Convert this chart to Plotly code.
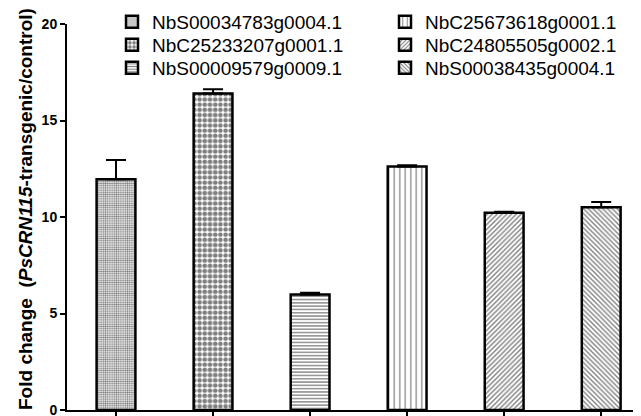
import plotly.graph_objects as go

genes = ["NbS00034783g0004.1", "NbC25233207g0001.1", "NbS00009579g0009.1",
         "NbC25673618g0001.1", "NbC24805505g0002.1", "NbS00038435g0004.1"]
fold_change = [11.95, 16.4, 5.98, 12.62, 10.22, 10.5]
err_upper = [1.0, 0.22, 0.1, 0.06, 0.05, 0.28]
y_ticks = [0, 5, 10, 15, 20]

shapes = [".", ".", "-", "|", "/", "\\"]
sizes = [2.2, 5.2, 3.3, 5.5, 3.4, 3.4]
solids = [0.5, 0.6, 0.4, 0.22, 0.4, 0.4]

# page is offset by the default 8px body margin; compensate in margins
OFF = 8
PL, PT, PB = 67, 24, 410          # plot area in page pixels
W, H = 641, 416

legend_ids = ["legend", "legend2", "legend3", "legend4", "legend5", "legend6"]
leg_text_x = [152, 152, 152, 425, 425, 425]   # where legend text starts (page px)
leg_y_page = [22, 45, 68, 22, 45, 68]         # row centre (page px)

fig = go.Figure()
for i, g in enumerate(genes):
    fig.add_trace(go.Bar(
        x=[g], y=[fold_change[i]], name=g, width=0.40,
        marker=dict(color="white",
                    line=dict(color="black", width=2.5),
                    pattern=dict(shape=shapes[i], size=sizes[i], solidity=solids[i],
                                 fgcolor="black", bgcolor="white", fillmode="overlay")),
        error_y=dict(type="data", symmetric=False, array=[err_upper[i]], arrayminus=[0],
                     color="black", thickness=2, width=10),
        legend=legend_ids[i],
    ))

legends = {}
for i, lid in enumerate(legend_ids):
    legends[lid] = dict(
        xref="container", yref="container",
        x=(leg_text_x[i] - 40 - OFF) / W, y=1 - (leg_y_page[i] - OFF) / H,
        xanchor="left", yanchor="middle",
        font=dict(size=19), bgcolor="rgba(0,0,0,0)")

fig.update_layout(
    width=W, height=H,
    margin=dict(l=PL - OFF, r=OFF, t=PT - OFF, b=H - PB + OFF, autoexpand=False),
    paper_bgcolor="white", plot_bgcolor="white",
    barmode="overlay",
    font=dict(family="Liberation Sans, Arial, sans-serif", color="black"),
    showlegend=True,
    xaxis=dict(categoryorder="array", categoryarray=genes,
               range=[-0.505, 5.41], showticklabels=False,
               ticks="outside", ticklen=6, tickwidth=1.5, tickcolor="black",
               showline=True, linecolor="black", linewidth=2,
               showgrid=False, zeroline=False, automargin=False),
    yaxis=dict(range=[0, 20], tickvals=y_ticks,
               ticktext=["<b>%d</b>" % t for t in y_ticks],
               tickfont=dict(size=14),
               ticks="outside", ticklen=5, tickwidth=1.5, tickcolor="black",
               showline=True, linecolor="black", linewidth=2,
               showgrid=False, zeroline=False, automargin=False),
    annotations=[dict(
        text="<b>Fold change  (<i>PsCRN115</i>-transgenic/control)</b>",
        textangle=-90, xref="paper", yref="paper",
        x=(25 - PL) / (W - PL), y=(PB - 209) / (PB - PT),
        xanchor="center", yanchor="middle",
        showarrow=False, font=dict(size=19))],
    **legends,
)

fig.write_html("out.html")
